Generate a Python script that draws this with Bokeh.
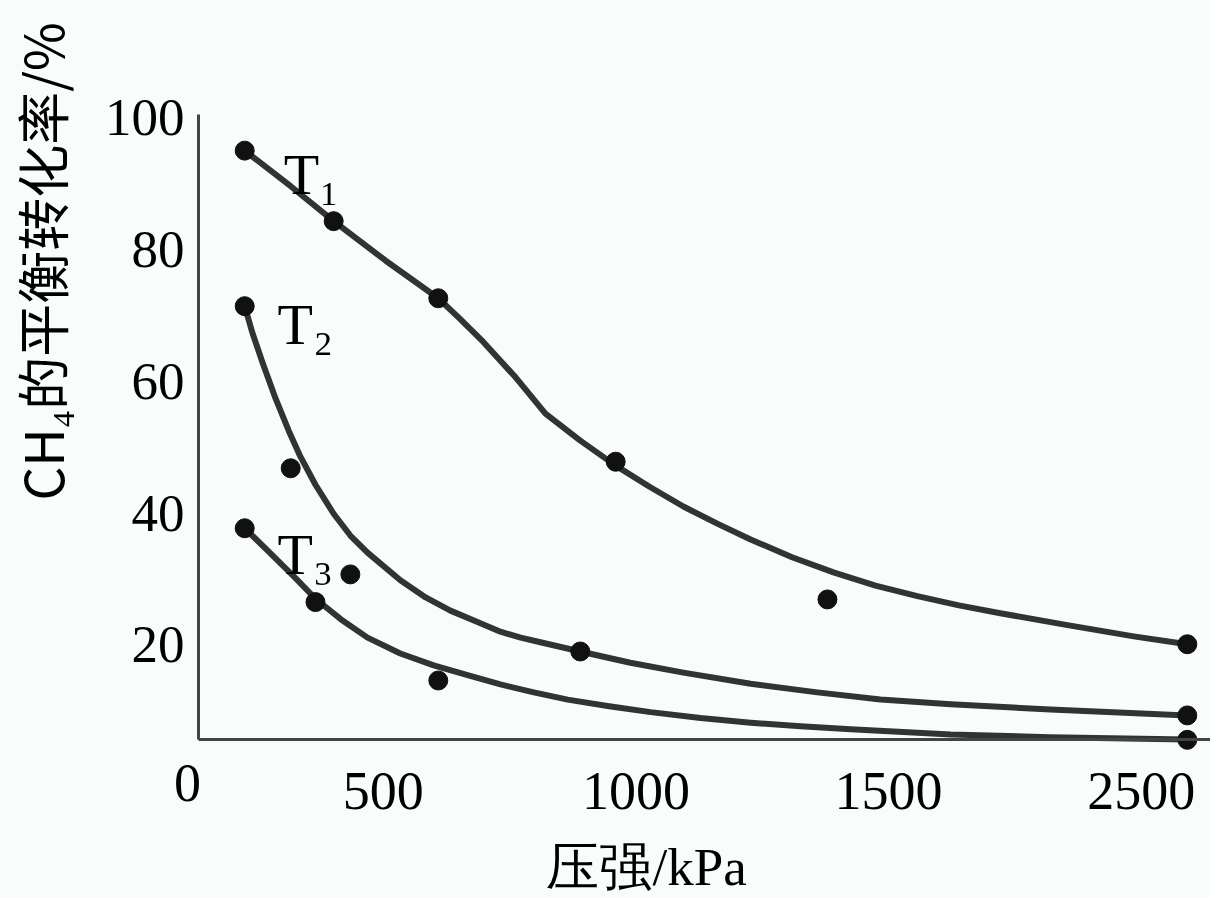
import math
from bokeh.plotting import figure
from bokeh.models import Range1d, FixedTicker, Label
from bokeh.embed import file_html
from bokeh.resources import INLINE

# ---------------- data (x in axis units, y in %) ----------------
x_ticks = [500, 1000, 1500, 2000]
x_tick_labels = ["500", "1000", "1500", "2500"]
y_ticks = [20, 40, 60, 80, 100]

# measured points
t1_x = [226, 402, 609, 960, 1379, 2091]
t1_y = [95.0, 84.3, 72.6, 47.8, 26.9, 20.1]
t2_x = [226, 317, 890, 2091]
t2_y = [71.4, 46.8, 19.0, 9.3]
t3_x = [226, 366, 435, 609, 2091]
t3_y = [37.7, 26.5, 30.7, 14.6, 5.6]

# hand-drawn trend curves
t1_curve_x = [226, 317, 402, 505, 609, 653, 699, 762, 821, 890, 960, 1027, 1094, 1161, 1227, 1309, 1391,
              1474, 1557, 1639, 1721, 1854, 1985, 2091]
t1_curve_y = [95.0, 89.6, 84.3, 78.3, 72.6, 69.4, 65.9, 60.6, 55.1, 51.0, 47.2, 44.0, 41.0, 38.4, 36.0, 33.3, 31.0,
              29.0, 27.4, 26.0, 24.8, 23.0, 21.3, 20.1]
t2_curve_x = [226, 241, 261, 287, 313, 336, 366, 402, 435, 469, 534, 584, 633, 683, 732, 772, 811, 890, 989,
              1094, 1227, 1359, 1484, 1623, 1820, 2091]
t2_curve_y = [71.4, 67.4, 62.9, 57.4, 52.5, 48.6, 44.3, 39.9, 36.6, 34.0, 29.8, 27.2, 25.2, 23.6, 22.0, 21.1, 20.4,
              19.0, 17.3, 15.8, 14.1, 12.8, 11.7, 11.0, 10.2, 9.3]
t3_curve_x = [226, 277, 327, 366, 416, 469, 534, 600, 667, 732, 798, 865, 947, 1029, 1128, 1227, 1326, 1425,
              1623, 1820, 2091]
t3_curve_y = [37.7, 33.9, 30.1, 27.0, 23.9, 21.1, 18.7, 16.9, 15.4, 14.0, 12.8, 11.7, 10.7, 9.8, 8.9, 8.2, 7.65,
              7.2, 6.4, 6.0, 5.65]

series_names = ["T₁", "T₂", "T₃"]

# ---------------- figure ----------------
BG = "#f8fdfc"
X0, X1 = -257.2, 2136.9
Y0, Y1 = -18.48, 117.78
X_AXIS_AT = 5.64      # y value where the pressure axis is drawn
Y_AXIS_AT = 134.5     # x value where the conversion axis is drawn
Y_TOP = 100.49

p = figure(width=1210, height=898, output_backend="svg", toolbar_location=None,
           x_range=Range1d(X0, X1), y_range=Range1d(Y0, Y1),
           min_border_left=0, min_border_right=0, min_border_top=0, min_border_bottom=0,
           background_fill_color=BG, border_fill_color=BG, outline_line_color=None)
p.grid.visible = False

for ax in (p.xaxis[0], p.yaxis[0]):
    ax.axis_line_width = 3
    ax.axis_line_color = "#444444"
    ax.major_tick_line_color = None
    ax.minor_tick_line_color = None
    ax.major_tick_out = 0
    ax.major_tick_in = 0
    ax.minor_tick_out = 0
    ax.minor_tick_in = 0
    ax.major_label_text_font = "Liberation Serif"
    ax.major_label_text_color = "#000000"

p.xaxis.ticker = FixedTicker(ticks=x_ticks)
p.xaxis.major_label_overrides = dict(zip(x_ticks, x_tick_labels))
p.xaxis.major_label_text_font_size = "54px"
p.xaxis.major_label_standoff = 33
p.xaxis.fixed_location = X_AXIS_AT
p.xaxis.bounds = (Y_AXIS_AT, X1)

p.yaxis.ticker = FixedTicker(ticks=y_ticks)
p.yaxis.major_label_text_font_size = "53px"
p.yaxis.major_label_standoff = 14
p.yaxis.fixed_location = Y_AXIS_AT
p.yaxis.bounds = (X_AXIS_AT, Y_TOP)

# curves
for cx, cy in ((t1_curve_x, t1_curve_y), (t2_curve_x, t2_curve_y), (t3_curve_x, t3_curve_y)):
    p.line(cx, cy, line_width=6, line_color="#333333", line_join="round", line_cap="round")

# points
for px, py in ((t1_x, t1_y), (t2_x, t2_y), (t3_x, t3_y)):
    p.scatter(px, py, size=19, fill_color="#111111", line_color="#111111")

# series labels
for (lx, ly), name in zip(((303, 91.4), (291, 68.6), (291, 33.7)), series_names):
    p.add_layout(Label(x=lx, y=ly, text=name, text_font="Liberation Serif",
                       text_font_size="58px", text_color="#000000",
                       text_align="left", text_baseline="alphabetic"))

# origin label
p.add_layout(Label(x=112.8, y=-0.9, text="0", text_font="Liberation Serif",
                   text_font_size="54px", text_color="#000000",
                   text_align="center", text_baseline="middle"))

# axis titles
p.add_layout(Label(x=823, y=-9.3, text="压强/kPa", text_font="Liberation Serif",
                   text_font_size="53px", text_color="#000000",
                   text_align="left", text_baseline="top"))
p.add_layout(Label(x=-101, y=41.9, text="CH₄的平衡转化率/%", text_font="Noto Sans CJK SC",
                   text_font_size="53px", text_color="#000000",
                   text_align="left", text_baseline="bottom", angle=math.pi / 2))

open("out.html", "w").write(file_html(p, INLINE, "chart"))
